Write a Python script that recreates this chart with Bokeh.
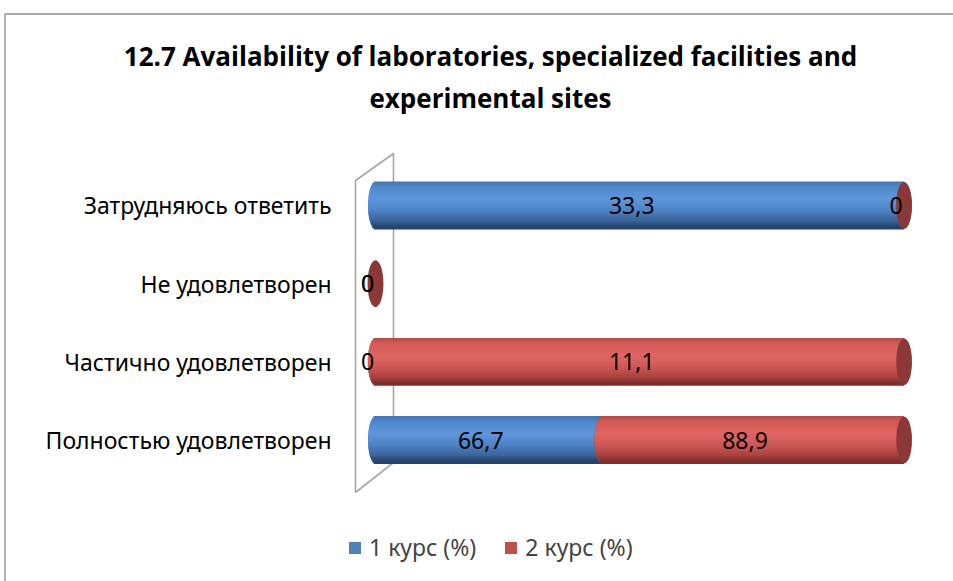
from bokeh.plotting import figure
from bokeh.models import Legend, LegendItem
from bokeh.core.properties import value
from bokeh.embed import file_html
from bokeh.resources import INLINE

# ---------------- data ----------------
title_lines = ["12.7 Availability of laboratories, specialized facilities and",
               "experimental sites"]
categories = ["Полностью удовлетворен", "Частично удовлетворен",
              "Не удовлетворен", "Затрудняюсь ответить"]
series_names = ["1 курс (%)", "2 курс (%)"]
course1 = [66.7, 0, 0, 33.3]
course2 = [88.9, 11.1, 0, 0]

# ---------------- layout ----------------
W, H = 953, 581
PX0, PX100 = 375.0, 903.5          # px of 0 % and 100 %
ROW0, ROW_STEP = 439.5, 78.17      # px (from top) of first row centre, row spacing
sx = (PX100 - PX0) / 100.0
x_start, x_end = -PX0 / sx, (W - PX0) / sx
y_end, y_start = ROW0 / ROW_STEP, -(H - ROW0) / ROW_STEP


def dx(px):  # px -> data x
    return (px - PX0) / sx


def dy(py):  # px -> data y
    return (ROW0 - py) / ROW_STEP


BAR_PX = 46.0
CAP_W = 15.0
bh = BAR_PX / ROW_STEP
rx = (CAP_W / 2) / sx

FONT_NAME = "Noto Sans"
FONT = value(FONT_NAME)
FS = "23px"

p = figure(width=W, height=H, x_range=(x_start, x_end), y_range=(y_start, y_end),
           min_border=0, toolbar_location=None, output_backend="svg")
p.axis.visible = False
p.grid.visible = False
p.outline_line_color = None
p.background_fill_color = "white"
p.border_fill_color = "white"

# outer chart border (top and left)
p.segment(x0=[dx(4.5), dx(4.5)], y0=[dy(13.5), dy(13.5)], x1=[dx(960), dx(4.5)],
          y1=[dy(13.5), dy(600)], line_color="#8c8c8c", line_width=1.3)

# 3-D back wall
wx = [dx(355), dx(393), dx(393), dx(355)]
wy = [dy(180), dy(153), dy(462), dy(492)]
p.patch(wx, wy, fill_color=None, line_color="#a6a6a6", line_width=1.6)


def hex2rgb(h):
    h = h.lstrip("#")
    return [int(h[i:i + 2], 16) for i in (0, 2, 4)]


def grad(stops, t):
    for (t0, c0), (t1, c1) in zip(stops, stops[1:]):
        if t0 <= t <= t1:
            f = (t - t0) / (t1 - t0) if t1 > t0 else 0
            a, b = hex2rgb(c0), hex2rgb(c1)
            return "#%02x%02x%02x" % tuple(int(round(a[i] + (b[i] - a[i]) * f)) for i in range(3))
    return stops[-1][1]


styles = [
    dict(color="#4f81bd", cap="#3d6497",
         stops=[(0, "#4473b0"), (0.12, "#5089cd"), (0.38, "#5f96dc"), (0.62, "#4f84c6"), (0.85, "#3a6398"), (1, "#233f66")]),
    dict(color="#c0504d", cap="#8c3836",
         stops=[(0, "#b44a47"), (0.12, "#d05b58"), (0.38, "#e06562"), (0.62, "#cf5956"), (0.85, "#a9423f"), (1, "#7a2c2a")]),
]

series = [course1, course2]
totals = [a + b for a, b in zip(course1, course2)]
pcts = [[(v / t * 100 if t else 0.0) for v, t in zip(s, totals)] for s in series]

N = 30
label_x, label_y, label_t = [], [], []
left = [0.0] * len(categories)
legend_items = []
for si, (vals, pc) in enumerate(zip(series, pcts)):
    st = styles[si]
    ys, ls, rs, cs = [], [], [], []
    cap_x, cap_y = [], []
    for ci, v in enumerate(pc):
        l, r = left[ci], left[ci] + v
        if v > 0:
            for k in range(N):
                t = (k + 0.5) / N
                u = 2 * t - 1
                ys.append(ci + bh / 2 - t * bh)
                ls.append(l - rx * max(0.0, 1 - u * u) ** 0.5)
                rs.append(r)
                cs.append(grad(st["stops"], t))
        cap_x.append(r)
        cap_y.append(ci)
        label_x.append((l + r) / 2)
        label_y.append(ci)
        label_t.append(("%g" % vals[ci]).replace(".", ","))
        left[ci] = r
    p.ellipse(x=cap_x, y=cap_y, width=CAP_W, height=BAR_PX, width_units="screen",
              height_units="screen", fill_color=st["cap"], line_color=st["cap"], line_width=0.5)
    if ys:
        p.hbar(y=ys, left=ls, right=rs, height=bh / N * 2.2, fill_color=cs, line_color=None)
        # redraw caps so that the segment's own cap sits on top of its body
        p.ellipse(x=[cap_x[i] for i in range(len(cap_x)) if pc[i] > 0],
                  y=[cap_y[i] for i in range(len(cap_y)) if pc[i] > 0],
                  width=CAP_W, height=BAR_PX, width_units="screen", height_units="screen",
                  fill_color=st["cap"], line_color=st["cap"], line_width=0.5)
    dummy = p.hbar(y=[-100], left=[0], right=[1], height=0.1, fill_color=st["color"], line_color=None)
    legend_items.append(LegendItem(label=series_names[si], renderers=[dummy]))

# data labels
p.text(x=label_x, y=label_y, text=label_t, text_align="center", text_baseline="middle",
       text_font=FONT, text_font_size=FS, text_color="#000000", x_offset=-8)

# category labels
p.text(x=[dx(331)] * len(categories), y=list(range(len(categories))), text=categories,
       text_align="right", text_baseline="middle", text_font=FONT, text_font_size=FS,
       text_color="#000000")

# title
p.text(x=[dx(490), dx(490)], y=[dy(55), dy(97)], text=title_lines, text_align="center",
       text_baseline="middle", text_font=value("Open Sans"), text_font_style="bold",
       text_font_size="26px", text_color="#000000")

legend = Legend(items=legend_items, orientation="horizontal", location=(347, 18),
                glyph_width=15, glyph_height=15, label_standoff=7, spacing=27,
                label_text_font=FONT_NAME, label_text_font_size=FS, padding=0, margin=0,
                border_line_color=None, background_fill_alpha=0)
p.add_layout(legend)

open("out.html", "w").write(file_html(p, INLINE))
